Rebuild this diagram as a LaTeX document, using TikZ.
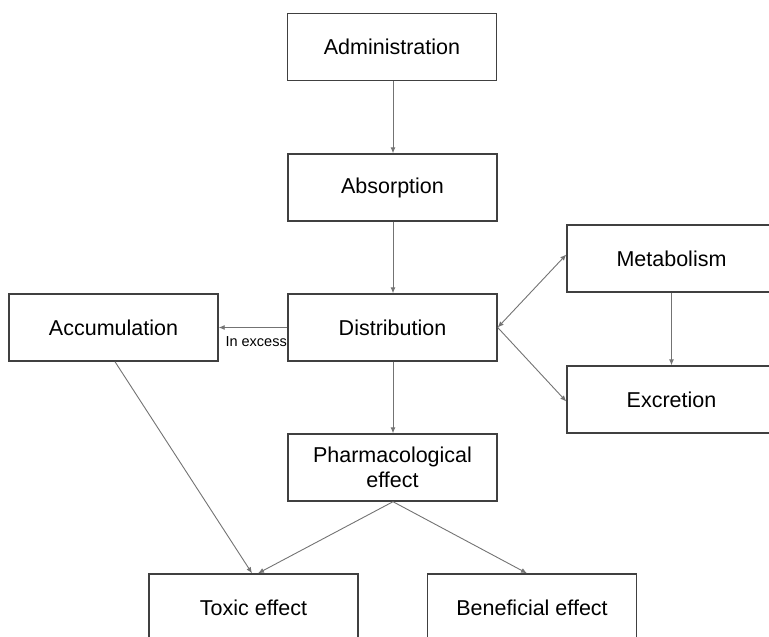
\documentclass[tikz,border=0pt]{standalone}
\usepackage{fontspec}
\setmainfont{Liberation Sans}
\usetikzlibrary{arrows.meta}
\begin{document}
\begin{tikzpicture}[x=1pt,y=-1pt,
  box/.style={draw=black!75, line width=1.4pt, fill=white, minimum width=209pt, minimum height=67pt,
    inner sep=0pt, align=center, font=\fontsize{21.5}{25}\selectfont},
  arr/.style={draw=black!55, line width=0.9pt, -{Latex[length=6pt,width=5pt]}},
  darr/.style={draw=black!55, line width=0.9pt, {Latex[length=6pt,width=5pt]}-{Latex[length=6pt,width=5pt]}}]
\useasboundingbox (0,0) rectangle (769,637);
\node[box] (admin) at (392,47) {Administration};
\node[box] (absorp) at (392.5,187.5) {Absorption};
\node[box] (distr) at (392.5,327.5) {Distribution};
\node[box] (accum) at (113.5,327.5) {Accumulation};
\node[box] (metab) at (671.5,258.5) {Metabolism};
\node[box] (excr) at (671.5,399.5) {Excretion};
\node[box] (pharm) at (392.5,467.5) {Pharmacological\\effect};
\node[box] (toxic) at (253.5,607.5) {Toxic effect};
\node[box] (benef) at (532,607.5) {Beneficial effect};
\coordinate (ax) at (393,0);
\draw[arr] (admin.south -| ax) -- (absorp.north -| ax);
\draw[arr] (absorp.south -| ax) -- (distr.north -| ax);
\draw[arr] (distr.west) -- (accum.east);
\node[font=\fontsize{14.5}{16}\selectfont, anchor=north east, inner sep=0pt] (inex) at (287,336) {In excess};
\draw[darr] (distr.east) -- ([yshift=4pt]metab.west);
\draw[arr] (distr.east) -- ([yshift=-2pt]excr.west);
\draw[arr] (metab.south) -- (excr.north);
\draw[arr] (distr.south -| ax) -- (pharm.north -| ax);
\coordinate (accb) at (115,361);
\draw[arr] (accum.south -| accb) -- ([xshift=-1.5pt]toxic.north);
\draw[arr] (pharm.south -| ax) -- ([xshift=4.5pt]toxic.north);
\draw[arr] (pharm.south -| ax) -- ([xshift=-5pt]benef.north);
\end{tikzpicture}
\end{document}
